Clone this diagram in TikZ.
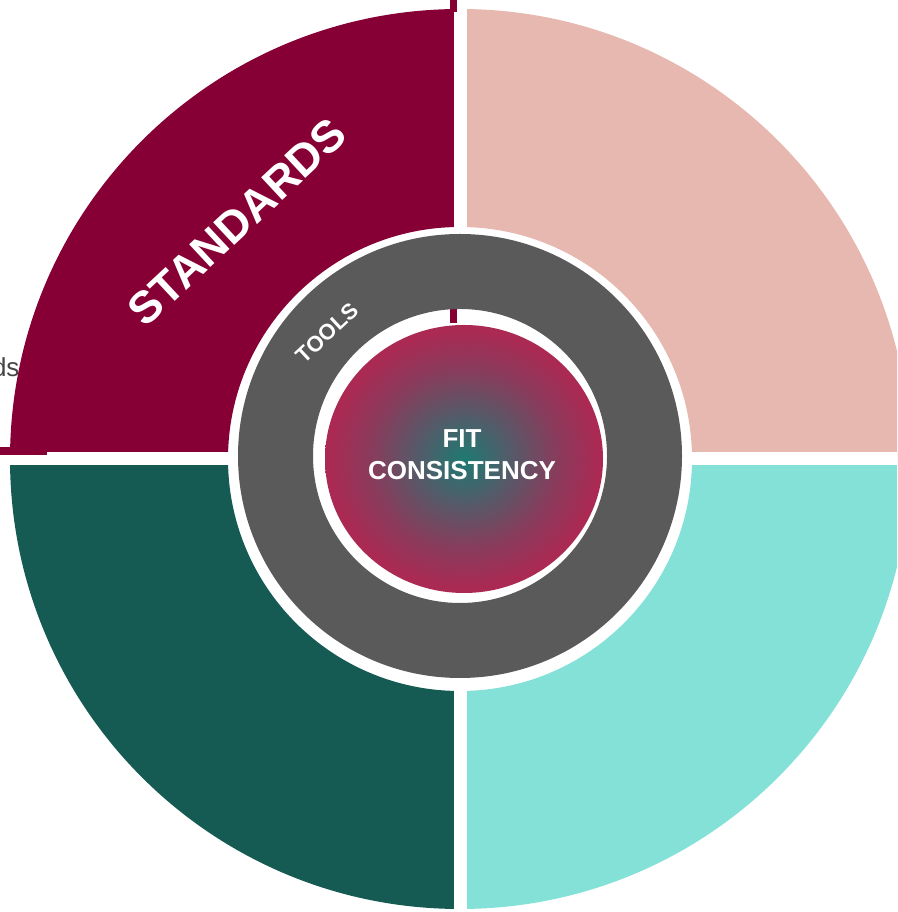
\documentclass[tikz,border=0pt]{standalone}
\usepackage{fontspec}
\setmainfont{Liberation Sans}
\usepackage{tikz}

\definecolor{stdmaroon}{HTML}{870035}
\definecolor{rosepink}{HTML}{E6B8AF}
\definecolor{lightteal}{HTML}{84E1D7}
\definecolor{darkteal}{HTML}{165A54}
\definecolor{toolgray}{HTML}{5A5A5A}
\definecolor{fitteal}{HTML}{1E7A72}
\definecolor{fitmid}{HTML}{585868}
\definecolor{fitplum}{HTML}{8A3B5B}
\definecolor{fitcrimson}{HTML}{AA2A54}
\definecolor{labelgray}{HTML}{454545}
\pgfdeclareradialshading{fitglow}{\pgfpoint{0bp}{0bp}}{color(0bp)=(fitteal); color(9bp)=(fitmid); color(17bp)=(fitplum); color(24bp)=(fitcrimson); color(50bp)=(fitcrimson)}

\begin{document}
\begin{tikzpicture}[x=1pt,y=1pt,
		ringlabel/.style={text=white,font=\bfseries,inner sep=0pt}]
		\useasboundingbox (0,0) rectangle (897,912);
		\clip (0,0) rectangle (897,912);
		\begin{scope}[shift={(460,453)}]
			% Cut-off label on the left
			\node[anchor=base east,text=labelgray,font=\fontsize{26}{30}\selectfont] (ds) at (-437,82) {ds};
			% Outer ring of four quadrants
			\foreach \from/\col in {0/rosepink,90/stdmaroon,180/darkteal,270/lightteal}
				\fill[\col] (\from:232pt) -- (\from:450pt)
					arc[start angle=\from,delta angle=90,radius=450pt]
					-- ({\from+90}:232pt)
					arc[start angle=\from+90,delta angle=-90,radius=232pt] -- cycle;
			\draw[white,line width=13pt] (-470,0) -- (470,0) (0,-470) -- (0,470);
			% Small maroon pieces
			\fill[stdmaroon] (-10,447) rectangle (-3,465);
			\fill[stdmaroon] (-10,136) rectangle (-3,150);
			\fill[stdmaroon] (-465,4) rectangle (-413,12);
			% Tools ring
			\fill[toolgray,even odd rule] (0,3) circle[radius=222pt] (0,3) circle[radius=147pt];
			% Centre disc
			\shade[shading=fitglow] (4,0) ellipse[x radius=139pt,y radius=134pt];
			% Labels
			\node[ringlabel,rotate=43,font=\bfseries\fontsize{45}{54}\selectfont] (standards) at (-223,237) {STANDARDS};
			\node[ringlabel,rotate=43,font=\bfseries\fontsize{22}{26}\selectfont] (tools) at (-133,126) {TOOLS};
			\node[ringlabel,align=center,font=\bfseries\fontsize{26}{32}\selectfont] (fit) at (2,4) {FIT\\CONSISTENCY};
		\end{scope}
	\end{tikzpicture}
\end{document}
